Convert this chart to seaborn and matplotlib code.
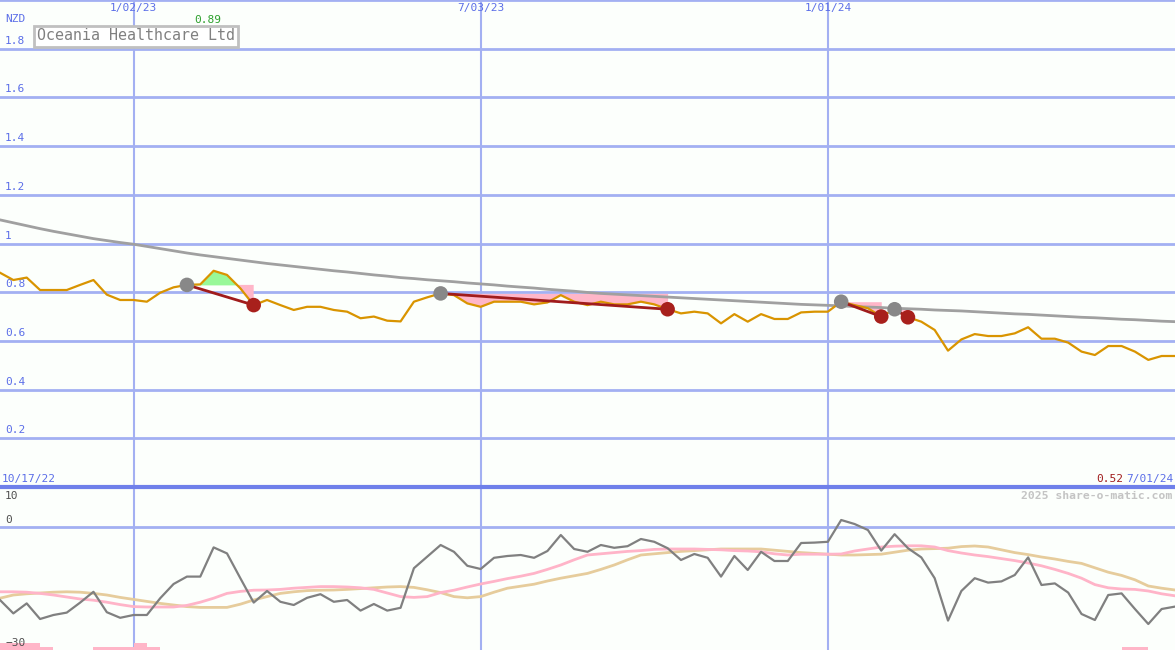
import numpy as np
import pandas as pd
import seaborn as sns
import matplotlib.pyplot as plt
import matplotlib.transforms as mtransforms

# weekly closes, 24 Oct 2022 .. 1 Jul 2024
weeks = pd.date_range('2022-10-24', periods=89, freq='7D')

price = [0.880, 0.850, 0.860, 0.809, 0.809, 0.809, 0.830, 0.850, 0.790, 0.768,
         0.768, 0.761, 0.798, 0.820, 0.830, 0.832, 0.888, 0.871, 0.816, 0.747,
         0.768, 0.747, 0.727, 0.740, 0.740, 0.727, 0.720, 0.693, 0.700, 0.683,
         0.680, 0.761, 0.779, 0.795, 0.788, 0.754, 0.740, 0.761, 0.761, 0.761,
         0.750, 0.758, 0.788, 0.761, 0.747, 0.761, 0.750, 0.750, 0.761, 0.750,
         0.730, 0.713, 0.720, 0.713, 0.672, 0.710, 0.679, 0.710, 0.690, 0.690,
         0.717, 0.720, 0.720, 0.761, 0.747, 0.734, 0.700, 0.730, 0.697, 0.679,
         0.645, 0.560, 0.606, 0.628, 0.620, 0.620, 0.631, 0.656, 0.609, 0.609,
         0.593, 0.556, 0.542, 0.579, 0.579, 0.556, 0.522, 0.538, 0.538]

trend = [1.097, 1.085, 1.073, 1.061, 1.050, 1.040, 1.030, 1.020, 1.012, 1.004,
         0.997, 0.988, 0.979, 0.970, 0.961, 0.953, 0.946, 0.939, 0.932, 0.925,
         0.918, 0.912, 0.906, 0.900, 0.894, 0.888, 0.883, 0.877, 0.871, 0.866,
         0.860, 0.856, 0.851, 0.847, 0.843, 0.838, 0.834, 0.830, 0.825, 0.821,
         0.817, 0.812, 0.808, 0.804, 0.799, 0.795, 0.792, 0.789, 0.786, 0.783,
         0.780, 0.777, 0.774, 0.771, 0.768, 0.765, 0.762, 0.759, 0.756, 0.753,
         0.750, 0.748, 0.746, 0.744, 0.741, 0.739, 0.737, 0.734, 0.732, 0.730,
         0.727, 0.725, 0.723, 0.720, 0.717, 0.714, 0.711, 0.709, 0.706, 0.703,
         0.700, 0.697, 0.695, 0.692, 0.689, 0.687, 0.684, 0.681, 0.679]

# trades: week index of entry and exit
buys = [14, 33, 63, 67]
sells = [19, 50, 66, 68]

osc = [-18.25, -21.6, -19.1, -23.0, -22.0, -21.4, -18.9, -16.2, -21.3, -22.7,
       -22.0, -22.0, -17.8, -14.25, -12.4, -12.4, -5.1, -6.6, -12.8, -18.9,
       -16.0, -18.7, -19.5, -17.7, -16.8, -18.7, -18.25, -20.9, -19.25, -20.9,
       -20.2, -10.3, -7.4, -4.5, -6.2, -9.7, -10.5, -7.7, -7.25, -7.0,
       -7.7, -6.0, -2.0, -5.5, -6.2, -4.5, -5.2, -4.8, -3.0, -3.7,
       -5.3, -8.25, -6.75, -7.7, -12.4, -7.25, -10.75, -6.2, -8.5, -8.5,
       -4.0, -3.9, -3.7, 1.75, 0.75, -0.75, -5.9, -1.8, -5.3, -7.6,
       -12.8, -23.4, -16.0, -12.8, -13.9, -13.6, -12.0, -7.6, -14.5, -14.1,
       -16.4, -21.75, -23.25, -17.0, -16.6, -20.5, -24.25, -20.5, -19.9]

osc_fast = [-16.2, -16.2, -16.3, -16.6, -17.0, -17.5, -18.0, -18.3, -18.8, -19.4,
            -19.9, -20.0, -20.0, -20.0, -19.6, -18.8, -17.8, -16.6, -16.1, -15.8,
            -15.75, -15.6, -15.3, -15.1, -14.9, -14.9, -15.0, -15.2, -15.6, -16.5,
            -17.4, -17.6, -17.4, -16.4, -15.8, -15.0, -14.25, -13.6, -12.9, -12.3,
            -11.6, -10.6, -9.5, -8.2, -7.0, -6.7, -6.4, -6.1, -5.9, -5.6,
            -5.5, -5.5, -5.5, -5.6, -5.7, -5.9, -6.0, -6.2, -6.7, -7.0,
            -6.8, -6.8, -6.8, -6.75, -6.0, -5.5, -5.0, -4.8, -4.7, -4.7,
            -5.0, -5.9, -6.5, -7.0, -7.4, -7.9, -8.4, -9.0, -9.7, -10.6,
            -11.6, -12.8, -14.4, -15.2, -15.5, -15.6, -16.0, -16.7, -17.2]

osc_slow = [-17.8, -17.0, -16.7, -16.5, -16.3, -16.2, -16.3, -16.6, -17.0, -17.6,
            -18.1, -18.6, -19.1, -19.5, -19.9, -20.1, -20.1, -20.1, -19.3, -18.25,
            -17.4, -16.6, -16.2, -15.9, -15.8, -15.75, -15.6, -15.4, -15.2, -15.0,
            -14.9, -15.1, -15.7, -16.4, -17.4, -17.7, -17.4, -16.3, -15.3, -14.8,
            -14.3, -13.5, -12.8, -12.2, -11.6, -10.6, -9.5, -8.2, -7.0, -6.7,
            -6.4, -6.1, -5.9, -5.7, -5.5, -5.5, -5.5, -5.5, -5.8, -6.1,
            -6.4, -6.6, -6.8, -7.0, -7.0, -6.9, -6.8, -6.3, -5.8, -5.5,
            -5.4, -5.3, -4.9, -4.75, -5.0, -5.7, -6.4, -6.9, -7.5, -8.0,
            -8.6, -9.1, -10.2, -11.3, -12.1, -13.2, -14.75, -15.3, -15.75]

# small pink markers along the bottom of the lower panel
mark_weeks = [0, 1, 2, 3, 7, 8, 9, 10, 11, 84, 85]
mark_height = [1.75, 1.75, 1.75, 0.75, 0.75, 0.75, 0.75, 1.75, 0.75, 0.75, 0.75]

price_ticks = [0.2, 0.4, 0.6, 0.8, 1.0, 1.2, 1.4, 1.6, 1.8, 2.0]
price_labels = ['0.2', '0.4', '0.6', '0.8', '1', '1.2', '1.4', '1.6', '1.8']
date_lines = pd.to_datetime(['2023-01-02', '2023-07-03', '2024-01-01'])
date_labels = ['1/02/23', '7/03/23', '1/01/24']

bg = '#fcfffc'
grid = '#a3b0f2'
blue = '#5b6ee8'
mono = ['DejaVu Sans Mono']

df = pd.DataFrame({'week': weeks, 'price': price, 'trend': trend,
                   'osc': osc, 'fast': osc_fast, 'slow': osc_slow})

fig = plt.figure(figsize=(11.75, 6.5), dpi=100, facecolor=bg)
ax = fig.add_axes([0, 163 / 650, 1, 487 / 650])
ax2 = fig.add_axes([0, 0, 1, 163 / 650])
for a in (ax, ax2):
    a.set_facecolor(bg)
    a.set_xlim(weeks[0], weeks[-1])
    a.set_xticks([])
    a.set_yticks([])
    for s in a.spines.values():
        s.set_visible(False)
    for d in date_lines:
        a.axvline(d, color=grid, lw=1.5, zorder=1)

# ---- price panel ----
ax.set_ylim(0, 2.0)
for v in price_ticks:
    ax.axhline(v, color=grid, lw=2, zorder=1)

px = np.array(price)
for b, s in zip(buys, sells):
    seg = slice(b, s + 1)
    level = price[b]
    ax.fill_between(weeks[seg], level, px[seg], where=px[seg] >= level,
                    interpolate=True, color='#98f898', lw=0, zorder=2)
    ax.fill_between(weeks[seg], level, px[seg], where=px[seg] <= level,
                    interpolate=True, color='#ffb6c8', lw=0, zorder=2)

sns.lineplot(data=df, x='week', y='trend', ax=ax, color='#a0a0a0', lw=2, zorder=3)
sns.lineplot(data=df, x='week', y='price', ax=ax, color='#d99400', lw=1.6, zorder=4)

for b, s in zip(buys, sells):
    ax.plot([weeks[b], weeks[s]], [price[b], price[s]], color='#a01c1c', lw=2, zorder=5)
trades = pd.DataFrame({'week': [weeks[i] for i in buys + sells],
                       'price': [price[i] for i in buys + sells],
                       'kind': ['buy'] * len(buys) + ['sell'] * len(sells)})
sns.scatterplot(data=trades, x='week', y='price', hue='kind', ax=ax, s=110,
                palette={'buy': '#888888', 'sell': '#a8201c'}, edgecolor='none',
                legend=False, zorder=6)
ax.set_xlabel('')
ax.set_ylabel('')

tr = mtransforms.blended_transform_factory(ax.transAxes, ax.transData)
for v, lab in zip(price_ticks, price_labels):
    ax.text(5 / 1175, v + 0.012, lab, transform=tr, color=blue, fontsize=8,
            family=mono, va='bottom', ha='left')
ax.text(5 / 1175, 1.9, 'NZD', transform=tr, color=blue, fontsize=8,
        family=mono, va='bottom', ha='left')

trx = mtransforms.blended_transform_factory(ax.transData, ax.transAxes)
for d, lab in zip(date_lines, date_labels):
    ax.text(d, 1 - 8 / 487, lab, transform=trx, color=blue, fontsize=8,
            family=mono, va='center', ha='center')

hi = int(np.argmax(px))
ax.text(weeks[hi] - pd.Timedelta(days=3), 1 - 20 / 487, f'{price[hi]:.2f}',
        transform=trx, color='#2ca02c', fontsize=8, family=mono,
        va='center', ha='center')

ax.text(37 / 1175, 1 - 36 / 487, 'Oceania Healthcare Ltd', transform=ax.transAxes,
        color='#808080', fontsize=10.8, family=mono, va='center', ha='left',
        bbox=dict(boxstyle='square,pad=0.2', fc='white', ec='#c0c0c0', lw=2),
        zorder=8)

# ---- oscillator panel ----
ax2.set_ylim(-30.75, 10)
ax2.axhline(0, color=grid, lw=2, zorder=1)
ax2.axhline(10, color='#6f80ea', lw=3, zorder=1, clip_on=False)

ax2.bar([weeks[i] for i in mark_weeks], mark_height, width=7, align='edge',
        bottom=-30.75, color='#ffb6c8', zorder=2)
sns.lineplot(data=df, x='week', y='slow', ax=ax2, color='#e6cc9c', lw=2, zorder=3)
sns.lineplot(data=df, x='week', y='fast', ax=ax2, color='#ffb4c8', lw=2, zorder=3)
sns.lineplot(data=df, x='week', y='osc', ax=ax2, color='#808080', lw=1.6, zorder=4)
ax2.set_xlabel('')
ax2.set_ylabel('')

tr2 = mtransforms.blended_transform_factory(ax2.transAxes, ax2.transData)
ax2.text(5 / 1175, 0.4, '0', transform=tr2, color='#505050', fontsize=8,
         family=mono, va='bottom', ha='left')
ax2.text(5 / 1175, 7.7, '10', transform=tr2, color='#505050', fontsize=8,
         family=mono, va='center', ha='left')
ax2.text(5 / 1175, -28.9, '\u221230', transform=tr2, color='#505050', fontsize=8,
         family=mono, va='center', ha='left', zorder=5)

ax2.text(1172 / 1175, 1 - 9 / 163, '2025 share-o-matic.com', transform=ax2.transAxes,
         color='#c4c4c4', fontsize=8.2, family=mono, fontweight='bold',
         va='center', ha='right')

fig.text(2 / 1175, 1 - 479 / 650, '10/17/22', color=blue, fontsize=8,
         family=mono, va='center', ha='left')
fig.text(1173 / 1175, 1 - 479 / 650, '7/01/24', color=blue, fontsize=8,
         family=mono, va='center', ha='right')
fig.text(1123 / 1175, 1 - 479 / 650, f'{min(price):.2f}', color='#a01c1c',
         fontsize=8, family=mono, va='center', ha='right')

fig.savefig('out.png', dpi=100, facecolor=bg)
